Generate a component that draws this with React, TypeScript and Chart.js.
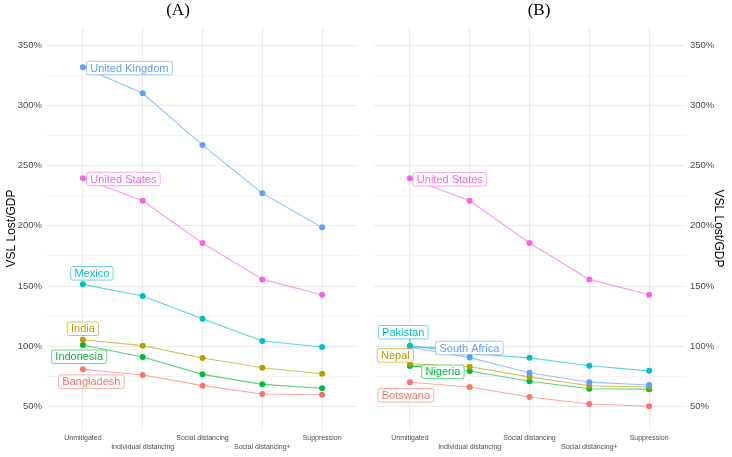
import React, { useEffect, useRef } from 'react';
import { Chart, registerables } from 'chart.js';

Chart.register(...registerables);

// ---------- data ----------
const scenarios = ['Unmitigated', 'Individual distancing', 'Social distancing', 'Social distancing+', 'Suppression'];
const yTickValues = [50, 75, 100, 125, 150, 175, 200, 225, 250, 275, 300, 325, 350];

// Panel (A)
const countriesA = ['United Kingdom', 'United States', 'Mexico', 'India', 'Indonesia', 'Bangladesh'];
const unitedKingdomA = [331.5, 310, 267, 227, 198.7];
const unitedStatesA = [239.4, 220.8, 185.7, 155.5, 142.8];
const mexicoA = [151.4, 141.7, 122.9, 104.4, 99.4];
const indiaA = [105.4, 100.5, 90.2, 82.2, 77.2];
const indonesiaA = [101, 91.1, 76.7, 68.4, 65.1];
const bangladeshA = [80.9, 76.1, 67.3, 60.4, 59.8];
const valuesA = [unitedKingdomA, unitedStatesA, mexicoA, indiaA, indonesiaA, bangladeshA];

// Panel (B)
const countriesB = ['United States', 'Pakistan', 'South Africa', 'Nepal', 'Nigeria', 'Botswana'];
const unitedStatesB = [239.4, 220.8, 185.7, 155.5, 142.8];
const pakistanB = [100.5, 94, 90.4, 83.8, 79.6];
const southAfricaB = [99.2, 90.6, 78, 70.2, 67.8];
const nepalB = [85.5, 83, 74.6, 67.2, 66.2];
const nigeriaB = [83.6, 79.5, 71, 64.8, 64.4];
const botswanaB = [70.1, 66.2, 57.9, 52.1, 50.2];
const valuesB = [unitedStatesB, pakistanB, southAfricaB, nepalB, nigeriaB, botswanaB];

// ---------- styles ----------
const colorOf: Record<string, string> = {
  'Bangladesh': '#F8766D', 'Botswana': '#F8766D',
  'India': '#B79F00', 'Nepal': '#B79F00',
  'Indonesia': '#00BA38', 'Nigeria': '#00BA38',
  'Mexico': '#00BFC4', 'Pakistan': '#00BFC4',
  'United Kingdom': '#619CFF', 'South Africa': '#619CFF',
  'United States': '#F564E3',
};

// label box placement relative to the first point (pixels)
const placementA: Record<string, { dx: number; dy: number; segment: boolean }> = {
  'United Kingdom': { dx: 46.5, dy: 0.7, segment: false },
  'United States': { dx: 40.5, dy: 0.7, segment: false },
  'Mexico': { dx: 9, dy: -11, segment: false },
  'India': { dx: 0, dy: -11, segment: false },
  'Indonesia': { dx: -3.7, dy: 11.7, segment: false },
  'Bangladesh': { dx: 8.5, dy: 12.4, segment: false },
};
const placementB: Record<string, { dx: number; dy: number; segment: boolean }> = {
  'United States': { dx: 40, dy: 1, segment: false },
  'Pakistan': { dx: -6.7, dy: -13.4, segment: true },
  'South Africa': { dx: 59.5, dy: 0.8, segment: true },
  'Nepal': { dx: -14.5, dy: -8.3, segment: false },
  'Nigeria': { dx: 33, dy: 5.7, segment: true },
  'Botswana': { dx: -4, dy: 13, segment: false },
};

const SANS = '"Liberation Sans", Arial, Helvetica, sans-serif';
const SERIF = '"Liberation Serif", "Times New Roman", serif';

function hexA(hex: string, a: number) {
  const n = parseInt(hex.slice(1), 16);
  return `rgba(${(n >> 16) & 255},${(n >> 8) & 255},${n & 255},${a})`;
}

const labelPlugin = {
  id: 'repelLabels',
  afterDatasetsDraw(chart: any, _args: any, opts: any) {
    const ctx: CanvasRenderingContext2D = chart.ctx;
    const place = opts.placement || {};
    const boxes: any[] = [];
    ctx.save();
    ctx.font = `11px ${SANS}`;
    chart.data.datasets.forEach((ds: any, i: number) => {
      const p = place[ds.label];
      if (!p) return;
      const pt = chart.getDatasetMeta(i).data[0];
      const w = ctx.measureText(ds.label).width + 7.5;
      const h = 13.5;
      const cx = pt.x + p.dx, cy = pt.y + p.dy;
      boxes.push({ label: ds.label, color: colorOf[ds.label], x0: cx - w / 2, y0: cy - h / 2, w, h, cx, cy, px: pt.x, py: pt.y, segment: p.segment });
    });
    boxes.forEach((b) => {
      if (!b.segment) return;
      const nx = Math.min(Math.max(b.px, b.x0), b.x0 + b.w);
      const ny = Math.min(Math.max(b.py, b.y0), b.y0 + b.h);
      ctx.strokeStyle = b.color;
      ctx.lineWidth = 0.8;
      ctx.beginPath();
      ctx.moveTo(b.px, b.py);
      ctx.lineTo(nx, ny);
      ctx.stroke();
    });
    boxes.forEach((b) => {
      ctx.beginPath();
      (ctx as any).roundRect(b.x0, b.y0, b.w, b.h, 2);
      ctx.fillStyle = '#ffffff';
      ctx.fill();
      ctx.strokeStyle = hexA(b.color, 0.75);
      ctx.lineWidth = 0.8;
      ctx.stroke();
      ctx.fillStyle = b.color;
      ctx.textAlign = 'center';
      ctx.textBaseline = 'middle';
      ctx.fillText(b.label, b.cx, b.cy + 0.5);
    });
    ctx.restore();
  },
};

const panelTitlePlugin = {
  id: 'panelTitle',
  afterDraw(chart: any, _args: any, opts: any) {
    const ctx: CanvasRenderingContext2D = chart.ctx;
    ctx.save();
    ctx.font = `17px ${SERIF}`;
    ctx.fillStyle = '#000';
    ctx.textAlign = 'center';
    ctx.textBaseline = 'middle';
    ctx.fillText(opts.text, opts.x, opts.y);
    ctx.restore();
  },
};

function buildConfig(countries: string[], values: number[][], side: 'left' | 'right', title: string, titleX: number, placement: any): any {
  return {
    type: 'line',
    data: {
      datasets: countries.map((c, i) => ({
        label: c,
        data: values[i].map((v, j) => ({ x: j, y: v })),
        borderColor: hexA(colorOf[c], 0.65),
        borderWidth: 1.1,
        pointBackgroundColor: colorOf[c],
        pointBorderWidth: 0,
        pointRadius: 3,
        tension: 0,
      })),
    },
    plugins: [labelPlugin, panelTitlePlugin],
    options: {
      animation: false,
      responsive: false,
      devicePixelRatio: 1,
      layout: { padding: side === 'left' ? { left: 0, right: 8, top: 27, bottom: 0 } : { left: 8, right: 0, top: 27, bottom: 0 } },
      plugins: {
        legend: { display: false },
        tooltip: { enabled: false },
        repelLabels: { placement },
        panelTitle: { text: title, x: titleX, y: 11 },
      },
      scales: {
        x: {
          type: 'linear',
          min: -0.6,
          max: 4.6,
          afterBuildTicks: (s: any) => { s.ticks = scenarios.map((_, i) => ({ value: i })); },
          afterFit: (s: any) => { s.height = 27; },
          border: { display: false },
          grid: { color: '#EBEBEB', lineWidth: 1, drawTicks: false },
          ticks: {
            autoSkip: false,
            maxRotation: 0,
            minRotation: 0,
            padding: 3,
            color: '#4D4D4D',
            font: { family: SANS, size: 7, lineHeight: '9.7px' },
            callback: (v: any) => {
              const i = Math.round(v);
              const name = scenarios[i];
              if (name === undefined) return '';
              return i % 2 === 1 ? ['', name] : name;
            },
          },
        },
        y: {
          type: 'linear',
          position: side,
          min: 30.5,
          max: 365,
          afterBuildTicks: (s: any) => { s.ticks = yTickValues.map((v) => ({ value: v })); },
          afterFit: (s: any) => { s.width = 47; },
          border: { display: false },
          grid: {
            drawTicks: false,
            color: (c: any) => (c.tick && c.tick.value % 50 === 0 ? '#EBEBEB' : '#F3F3F3'),
            lineWidth: (c: any) => (c.tick && c.tick.value % 50 === 0 ? 1 : 0.8),
          },
          ticks: {
            padding: 5,
            color: '#4D4D4D',
            font: { family: SANS, size: 9.5 },
            callback: (v: any) => (v % 50 === 0 ? `${v}%` : ''),
          },
          title: {
            display: true,
            text: 'VSL Lost/GDP',
            color: '#000',
            font: { family: SANS, size: 12 },
            padding: { top: side === 'left' ? 4 : 6, bottom: 0 },
          },
        },
      },
    },
  };
}

function Panel({ left, config }: { left: number; config: any }) {
  const ref = useRef<HTMLCanvasElement | null>(null);
  useEffect(() => {
    if (!ref.current) return;
    const chart = new Chart(ref.current, config);
    return () => chart.destroy();
  }, [config]);
  return (
    <canvas
      ref={ref}
      width={366}
      height={457}
      style={{ position: 'absolute', left, top: 0, width: 366, height: 457, display: 'block' }}
    />
  );
}

const configA = buildConfig(countriesA, valuesA, 'left', '(A)', 178, placementA);
const configB = buildConfig(countriesB, valuesB, 'right', '(B)', 173, placementB);

export default function App() {
  return (
    <div style={{ position: 'absolute', left: 0, top: 0, width: 732, height: 457, background: '#ffffff', overflow: 'hidden' }}>
      <Panel left={0} config={configA} />
      <Panel left={366} config={configB} />
    </div>
  );
}
